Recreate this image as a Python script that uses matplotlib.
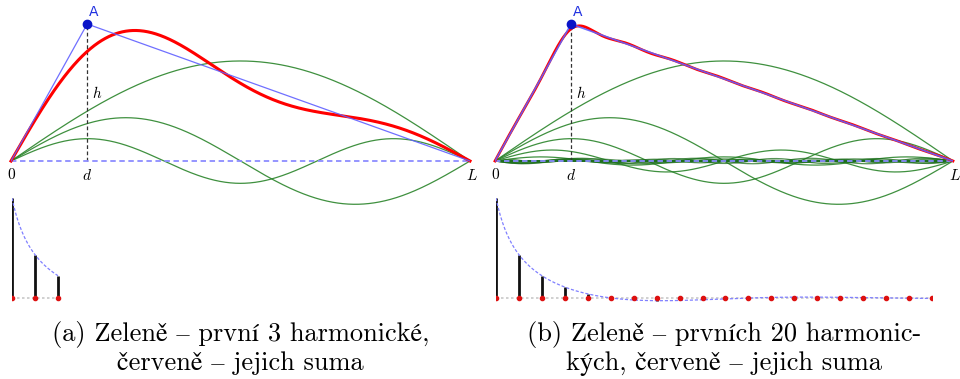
"""Plucked string: Fourier harmonics of a triangular initial shape."""
import numpy as np
import matplotlib.pyplot as plt

W, H = 960, 379

# position of the pluck point as a fraction of L, and pluck height (units of h)
D_RATIO = 0.166
APEX = 1.0

# harmonic amplitudes b_n (in units of h)
AMPS = [0.730, 0.316, 0.163, 0.080, 0.030, 0.0005, -0.015, -0.020, -0.018, -0.013,
        -0.006, -0.0003, 0.004, 0.006, 0.0065, 0.005, 0.0027, 0.0002, -0.002, -0.003]

N_SHOWN = [3, 20]
CAPTIONS = ["(a) Zeleně – první 3 harmonické,\nčerveně – jejich suma",
            "(b) Zeleně – prvních 20 harmonic-\nkých, červeně – jejich suma"]
TICK_LABELS = ["0", "d", "L"]

GREEN = "#2a842a"
RED = "#ff0000"
BLUE = "#6060ff"
SERIF = ["cmr10", "STIXGeneral"]


def px_axes(fig, x0, x1, y0, y1):
    """Axes placed by pixel box (top-left origin)."""
    return fig.add_axes([x0 / W, 1 - y1 / H, (x1 - x0) / W, (y1 - y0) / H])


def amp(n):
    # continuous version of the coefficient, used for the dashed envelope
    return 2 * APEX / (np.pi ** 2 * n ** 2 * D_RATIO * (1 - D_RATIO)) * np.sin(n * np.pi * D_RATIO)


def draw_string(ax, n_harm):
    x = np.linspace(0, 1, 800)
    total = np.zeros_like(x)
    for k in range(n_harm):
        y = AMPS[k] * np.sin((k + 1) * np.pi * x)
        total += y
        ax.plot(x, y, color=GREEN if k < 5 else "#1d6e1d", lw=0.9,
                alpha=0.9 if k < 5 else 0.75, clip_on=False)
    ax.plot([0, 1], [0, 0], color="#8c8cff", lw=1.3, ls=(0, (3, 2)), zorder=3)
    ax.plot(x, total, color=RED, lw=2.2 if n_harm < 10 else 2.0, zorder=4, clip_on=False)
    ax.plot([0, D_RATIO, 1], [0, APEX, 0], color=BLUE,
            lw=0.9 if n_harm < 10 else 1.2, zorder=5, alpha=0.9)
    ax.plot([D_RATIO, D_RATIO], [0, APEX], color="#333333", lw=0.9, ls=(0, (3, 2)), zorder=2)
    ax.plot(D_RATIO, APEX, "o", color="#0a14c8", ms=6, zorder=6)
    ax.text(D_RATIO + 0.004, APEX + 0.04, "A", color="#2030e0", fontsize=10,
            family="DejaVu Sans", ha="left", va="bottom")
    ax.text(D_RATIO + 0.01, 0.5, "$h$", fontsize=11, ha="left", va="center")
    for xv, lab in zip([0, D_RATIO, 1], TICK_LABELS):
        txt = lab if lab == "0" else f"${lab}$"
        ax.text(xv + (0.004 if lab == "L" else 0), -0.05, txt, fontsize=11,
                ha="center", va="top", family="cmr10")


def draw_spectrum(ax, n_harm):
    n = np.arange(1, n_harm + 1)
    b = np.array(AMPS[:n_harm])
    ax.plot([1, n_harm], [0, 0], color="#c8c8c8", lw=1.2, ls=(0, (1.5, 1.5)), zorder=1)
    ax.vlines(n, 0, b, color="#111111", lw=2.0, zorder=2)
    nn = np.linspace(1, n_harm, 400)
    ax.plot(nn, amp(nn), color="#8080ff", lw=0.9, ls=(0, (2.5, 1.5)), zorder=3)
    ax.plot(n, np.zeros_like(n), "o", color="#dd1010", ms=3, zorder=4)


fig = plt.figure(figsize=(W / 100, H / 100), dpi=100)
plt.rcParams["mathtext.fontset"] = "cm"

boxes_top = [(11, 470), (495, 953)]
boxes_spec = [(12, 449), (496, 932)]
for i, n_harm in enumerate(N_SHOWN):
    x0, x1 = boxes_top[i]
    ax = px_axes(fig, x0, x1, 10, 215)
    ax.set_xlim(0, 1)
    ax.set_ylim((161 - 215) / 137, (161 - 10) / 137)
    ax.axis("off")
    draw_string(ax, n_harm)

    s0, s1 = boxes_spec[i]
    axs = px_axes(fig, s0, s1, 188, 312)
    axs.set_xlim(1, 20)
    axs.set_ylim(-(312 - 298) / 137, (298 - 188) / 137)
    axs.axis("off")
    draw_spectrum(axs, n_harm)

    cx = (x0 + x1) / 2 / W
    fig.text(cx, 1 - 321 / H, CAPTIONS[i], ha="center", va="top", fontsize=19,
             family=SERIF, linespacing=1.2)

fig.savefig("out.png", dpi=100)
